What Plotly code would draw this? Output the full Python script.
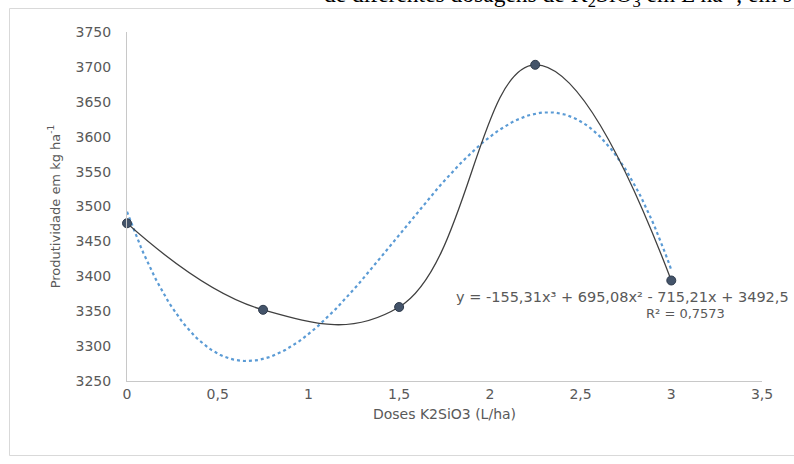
import numpy as np
import plotly.graph_objects as go

# Data
doses = [0, 0.75, 1.5, 2.25, 3]
produtividade = [3476, 3352, 3356, 3703, 3394]
# Trendline coefficients (as shown in the chart equation)
coef = [-155.31, 695.08, -715.21, 3492.5]
x_ticks = [0, 0.5, 1, 1.5, 2, 2.5, 3, 3.5]
x_tick_labels = ["0", "0,5", "1", "1,5", "2", "2,5", "3", "3,5"]
y_ticks = [3250, 3300, 3350, 3400, 3450, 3500, 3550, 3600, 3650, 3700, 3750]
y_tick_labels = [str(v) for v in y_ticks]

W, H = 794, 464
L, R, T, B = 127, 32, 32, 83
FONT = "DejaVu Sans"
GRAY = "#595959"

xt = np.linspace(min(doses), max(doses), 200)
yt = np.polyval(coef, xt)

fig = go.Figure()
fig.add_trace(go.Scatter(x=xt, y=yt, mode="lines",
                         line=dict(color="#5B9BD5", width=2.2, dash="dot"),
                         hoverinfo="skip", cliponaxis=False))
fig.add_trace(go.Scatter(x=doses, y=produtividade, mode="lines+markers",
                         line=dict(color="#404040", width=1.3, shape="spline", smoothing=1.2),
                         marker=dict(size=9, color="#44546A", line=dict(color="#2F3B4C", width=1)),
                         cliponaxis=False))

def px2paper_x(px):
    return (px - L) / (W - L - R)

def px2paper_y(py):
    return (H - B - py) / (H - T - B)

shapes = [dict(type="rect", xref="paper", yref="paper",
               x0=px2paper_x(9.5), x1=px2paper_x(800), y0=px2paper_y(455.5), y1=px2paper_y(8.5),
               line=dict(color="#D9D9D9", width=1), fillcolor="rgba(0,0,0,0)", layer="below")]

annotations = [
    dict(text="y = -155,31x³ + 695,08x² - 715,21x + 3492,5",
         xref="paper", yref="paper", x=px2paper_x(791), y=px2paper_y(297),
         xanchor="right", yanchor="middle", showarrow=False,
         font=dict(family=FONT, size=14.5, color=GRAY)),
    dict(text="R² = 0,7573",
         xref="paper", yref="paper", x=px2paper_x(685), y=px2paper_y(313),
         xanchor="center", yanchor="middle", showarrow=False,
         font=dict(family=FONT, size=13, color=GRAY)),
    dict(text="de diferentes dosagens de K<sub>2</sub>SiO<sub>3</sub> em L ha<sup>-1</sup>, em s",
         xref="paper", yref="paper", x=px2paper_x(322), y=px2paper_y(-6),
         xanchor="left", yanchor="middle", showarrow=False,
         font=dict(family="Liberation Serif", size=23.5, color="#000000")),
]

fig.update_layout(
    width=W, height=H,
    margin=dict(l=L, r=R, t=T, b=B),
    paper_bgcolor="white", plot_bgcolor="white",
    showlegend=False,
    shapes=shapes, annotations=annotations,
    font=dict(family=FONT, color=GRAY),
    xaxis=dict(range=[0, 3.5], tickvals=x_ticks, ticktext=x_tick_labels,
               showgrid=False, zeroline=False, showline=True, linecolor="#C8C8C8", linewidth=1,
               ticks="", tickfont=dict(family=FONT, size=14, color=GRAY), ticklabelstandoff=0,
               title=dict(text="Doses K2SiO3 (L/ha)", font=dict(family=FONT, size=14, color=GRAY), standoff=8)),
    yaxis=dict(range=[3250, 3750], tickvals=y_ticks, ticktext=y_tick_labels,
               showgrid=False, zeroline=False, showline=True, linecolor="#C8C8C8", linewidth=1,
               ticks="", tickfont=dict(family=FONT, size=14, color=GRAY), ticklabelstandoff=12,
               title=dict(text="Produtividade em kg ha<sup>-1</sup>", font=dict(family=FONT, size=13, color=GRAY), standoff=12)),
)

fig.write_html("out.html")
